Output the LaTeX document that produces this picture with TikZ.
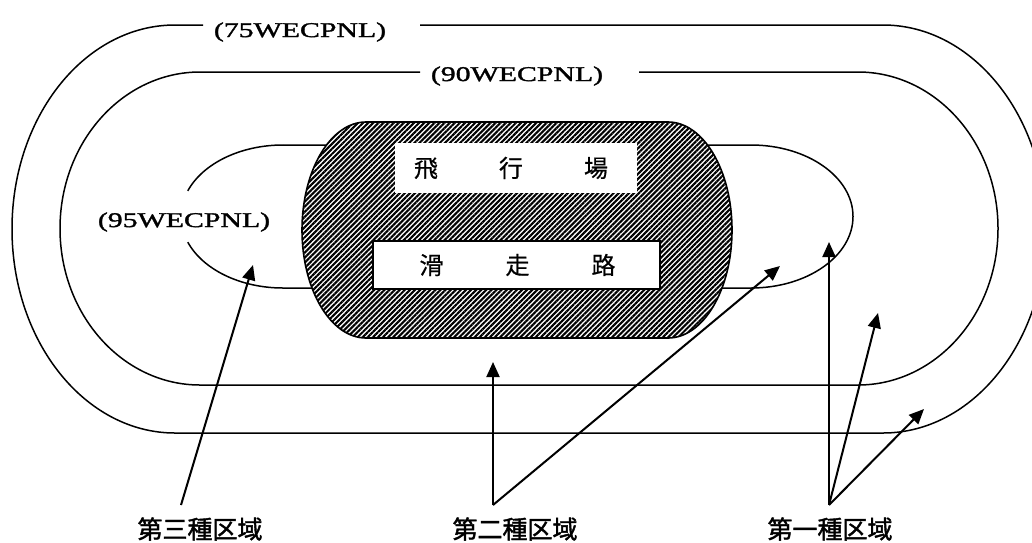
\documentclass[tikz,border=0pt]{standalone}
\usepackage{fontspec}
\usetikzlibrary{patterns.meta,arrows.meta}
\newfontfamily\cjk[FakeBold=0.6]{Noto Sans CJK JP}
\newfontfamily\cjkbold[FakeBold=1.6]{Noto Sans CJK JP}
\newfontfamily\latwide[FakeStretch=1.42,FakeBold=1.6]{Liberation Serif}
\tikzset{
  zoneline/.style={line width=1.5pt},
  wlabel/.style={font=\latwide\fontsize{21}{21}\selectfont, inner sep=0pt},
  zonelabel/.style={font=\cjkbold\fontsize{25}{25}\selectfont, inner sep=0pt},
  ptr/.style={line width=2pt, -{Triangle[length=15pt,width=13pt]}},
  hatch/.style={line width=1.6pt, fill=white, postaction={pattern={Lines[angle=45,distance=3.6pt,line width=2.1pt]}}},
  namebox/.style={fill=white, inner sep=0pt, font=\cjk\fontsize{24}{24}\selectfont},
}
\begin{document}
\begin{tikzpicture}[x=1pt,y=-1pt]
\useasboundingbox (0,0) rectangle (1032,542);
% outer loop (75)
\draw[zoneline] (420,25) -- (883,25) arc[start angle=-90,end angle=90,x radius=163,y radius=204]
  -- (175,433) arc[start angle=90,end angle=270,x radius=163,y radius=204] -- (203,25);
% middle loop (90)
\draw[zoneline] (639,72) -- (858,72) arc[start angle=-90,end angle=90,x radius=140,y radius=156.5]
  -- (200,385) arc[start angle=90,end angle=270,x radius=140,y radius=156.5] -- (420,72);
% inner loop (95)
\draw[zoneline] (283,145) -- (751,145) arc[start angle=-90,end angle=90,x radius=102,y radius=71.5]
  -- (283,288) arc[start angle=90,end angle=159,x radius=102,y radius=71.5];
\draw[zoneline] (283,145) arc[start angle=270,end angle=201,x radius=102,y radius=71.5];
% airport
\draw[hatch] (366,122) -- (668,122) arc[start angle=-90,end angle=90,x radius=64,y radius=108]
  -- (366,338) arc[start angle=90,end angle=270,x radius=64,y radius=108] -- cycle;
\node[namebox, minimum width=242pt, minimum height=50pt] (field) at (516,168)
  {\hspace{-10pt}飛\hspace{61pt}行\hspace{61pt}場};
\node[namebox, draw, line width=1.5pt, minimum width=287pt, minimum height=48pt] (runway) at (516.5,265)
  {\hspace{2pt}滑\hspace{62pt}走\hspace{62pt}路};
% level labels
\node[wlabel] (l75) at (300,32) {(75WECPNL)};
\node[wlabel] (l90) at (517,76) {(90WECPNL)};
\node[wlabel] (l95) at (184,222) {(95WECPNL)};
% zone labels
\node[zonelabel] (z3) at (200,529) {第三種区域};
\node[zonelabel] (z2) at (515,529) {第二種区域};
\node[zonelabel] (z1) at (830,529) {第一種区域};
% pointer origins and tips
\coordinate (o3) at (181,505);
\coordinate (o2) at (493,505);
\coordinate (o1) at (829,505);
\coordinate (t3) at (253,265);
\coordinate (t2a) at (493,362);
\coordinate (t2b) at (780,266);
\coordinate (t1a) at (829,242);
\coordinate (t1b) at (878,313);
\coordinate (t1c) at (924,409);
\draw[ptr] (o3) -- (t3);
\draw[ptr] (o2) -- (t2a);
\draw[ptr] (o2) -- (t2b);
\draw[ptr] (o1) -- (t1a);
\draw[ptr] (o1) -- (t1b);
\draw[ptr] (o1) -- (t1c);
\end{tikzpicture}
\end{document}
